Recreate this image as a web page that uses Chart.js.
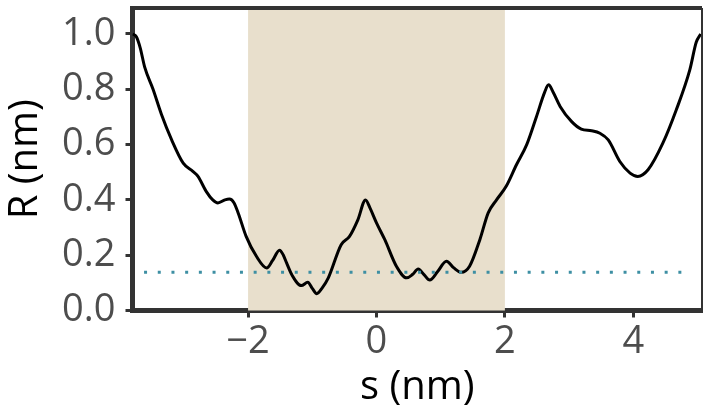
<!DOCTYPE html>
<html>
<head>
<meta charset="utf-8">
<script src="https://cdn.jsdelivr.net/npm/chart.js@4"></script>
<style>
  html, body { margin: 0; padding: 0; background: #fff; }
  #wrap { width: 704px; height: 414px; }
</style>
</head>
<body>
<div id="wrap"><canvas id="chart" width="704" height="414"></canvas></div>
<script>
// curve R(s)
const sValues = [-3.80, -3.74, -3.68, -3.61, -3.48, -3.35, -3.19, -3.01, -2.86, -2.78, -2.65, -2.55, -2.47, -2.36, -2.29, -2.22, -2.15, -2.03, -1.87, -1.71, -1.62, -1.51, -1.45, -1.40, -1.32, -1.17, -1.07, -1.00, -0.93, -0.85, -0.75, -0.55, -0.42, -0.29, -0.17, -0.10, 0.00, 0.13, 0.31, 0.47, 0.56, 0.65, 0.74, 0.83, 0.95, 1.09, 1.20, 1.32, 1.45, 1.61, 1.74, 1.87, 2.02, 2.18, 2.34, 2.49, 2.62, 2.68, 2.75, 2.86, 3.04, 3.19, 3.35, 3.48, 3.61, 3.79, 3.95, 4.07, 4.23, 4.46, 4.67, 4.88, 4.98, 5.05];
const rValues = [1.00, 0.99, 0.95, 0.88, 0.80, 0.71, 0.617, 0.533, 0.503, 0.485, 0.43, 0.40, 0.389, 0.40, 0.403, 0.39, 0.35, 0.268, 0.196, 0.154, 0.18, 0.218, 0.20, 0.172, 0.13, 0.09, 0.102, 0.08, 0.061, 0.08, 0.118, 0.238, 0.268, 0.328, 0.40, 0.37, 0.317, 0.256, 0.16, 0.118, 0.13, 0.15, 0.13, 0.11, 0.14, 0.178, 0.155, 0.138, 0.16, 0.256, 0.353, 0.40, 0.449, 0.527, 0.60, 0.70, 0.79, 0.816, 0.79, 0.738, 0.683, 0.656, 0.65, 0.641, 0.617, 0.539, 0.497, 0.485, 0.509, 0.605, 0.726, 0.87, 0.97, 1.00];

// dotted reference level
const refLevel = 0.138;
const refRange = [-3.62, 4.87];

// shaded window
const shadeRange = [-2, 2];

// axes
const xLimits = [-3.8, 5.07];
const yLimits = [0, 1.094];
const xTickValues = [-2, 0, 2, 4];
const yTickValues = [0, 0.2, 0.4, 0.6, 0.8, 1.0];

const curvePoints = sValues.map((s, i) => ({ x: s, y: rValues[i] }));
const refPoints = refRange.map(s => ({ x: s, y: refLevel }));

const shadePlugin = {
    id: 'shade',
    beforeDatasetsDraw(chart) {
        const { ctx, chartArea, scales } = chart;
        const x0 = scales.x.getPixelForValue(shadeRange[0]);
        const x1 = scales.x.getPixelForValue(shadeRange[1]);
        ctx.save();
        ctx.fillStyle = '#e8dfcc';
        ctx.fillRect(x0, chartArea.top, x1 - x0, chartArea.bottom - chartArea.top);
        ctx.restore();
    },
    afterDraw(chart) {
        const { ctx, chartArea } = chart;
        ctx.save();
        ctx.strokeStyle = '#333';
        // top and right frame
        ctx.lineWidth = 4;
        ctx.beginPath();
        ctx.moveTo(chartArea.left, chartArea.top);
        ctx.lineTo(chartArea.right, chartArea.top);
        ctx.stroke();
        ctx.lineWidth = 2;
        ctx.beginPath();
        ctx.moveTo(chartArea.right, chartArea.top);
        ctx.lineTo(chartArea.right, chartArea.bottom);
        ctx.stroke();
        ctx.restore();
    }
};

const tickFont = { family: 'Open Sans', size: 38 };
const titleFont = { family: 'Open Sans', size: 40 };

new Chart(document.getElementById('chart'), {
    type: 'scatter',
    data: {
        datasets: [{
            data: refPoints,
            showLine: true,
            borderColor: '#3d8fa3',
            borderWidth: 3,
            borderDash: [3, 10.7],
            borderCapStyle: 'butt',
            pointRadius: 0
        }, {
            data: curvePoints,
            showLine: true,
            borderColor: '#000',
            borderWidth: 3,
            cubicInterpolationMode: 'monotone',
            pointRadius: 0
        }]
    },
    options: {
        responsive: false,
        animation: false,
        layout: { padding: { top: 8, right: 2, left: 0, bottom: 0 } },
        plugins: { legend: { display: false }, tooltip: { enabled: false } },
        scales: {
            x: {
                type: 'linear',
                min: xLimits[0],
                max: xLimits[1],
                afterBuildTicks: scale => { scale.ticks = xTickValues.map(v => ({ value: v })); },
                afterFit: scale => {
                    scale.height = 103.5;
                    scale.paddingLeft = 0;
                    scale.paddingRight = 0;
                },
                ticks: {
                    font: tickFont,
                    color: '#4d4d4d',
                    padding: 2,
                    callback: v => (v < 0 ? '\u2212' + Math.abs(v) : String(v))
                },
                grid: { drawOnChartArea: false, drawTicks: true, tickLength: 7, tickWidth: 3, tickColor: '#333' },
                border: { display: true, color: '#333', width: 5 },
                title: { display: true, text: 's (nm)', font: titleFont, color: '#000', padding: { top: 0, bottom: 2 } }
            },
            y: {
                type: 'linear',
                min: yLimits[0],
                max: yLimits[1],
                afterBuildTicks: scale => { scale.ticks = yTickValues.map(v => ({ value: v })); },
                afterFit: scale => {
                    scale.width = 132.5;
                    scale.paddingTop = 0;
                    scale.paddingBottom = 0;
                },
                ticks: {
                    font: tickFont,
                    color: '#4d4d4d',
                    padding: 10,
                    callback: v => v.toFixed(1)
                },
                grid: { drawOnChartArea: false, drawTicks: true, tickLength: 7, tickWidth: 3, tickColor: '#333' },
                border: { display: true, color: '#333', width: 5 },
                title: { display: true, text: 'R (nm)', font: titleFont, color: '#000', padding: { top: 2, bottom: 0 } }
            }
        }
    },
    plugins: [shadePlugin]
});
</script>
</body>
</html>
